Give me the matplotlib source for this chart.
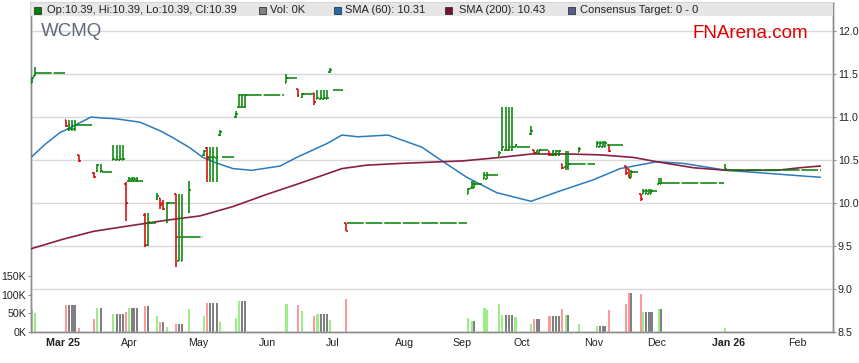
import matplotlib
matplotlib.use("Agg")
import matplotlib.pyplot as plt
from matplotlib.patches import Rectangle

plt.rcParams['font.family'] = ['Liberation Sans', 'DejaVu Sans']
plt.rcParams['lines.scale_dashes'] = False

# daily bars: x = session position, OHLC prices, volume (thousands), volume colour
pos = [0.3, 1.1, 10.7, 11.4, 12.3, 13.2, 14.5, 19.1, 20.1, 21.3,
       24.9, 26.0, 27.0, 28.0, 28.8, 29.7, 30.5, 31.3, 32.0, 34.5,
       35.5, 38.3, 39.2, 40.0, 41.3, 43.9, 44.8, 45.8, 48.0, 52.4,
       53.3, 54.2, 55.2, 56.3, 57.3, 62.1, 63.0, 63.9, 64.8, 77.4,
       80.8, 82.2, 85.8, 86.8, 87.8, 88.8, 89.8, 90.6, 95.4, 132.5,
       133.5, 134.2, 137.4, 138.1, 141.9, 142.8, 143.8, 144.8, 145.8, 146.8,
       151.5, 152.4, 153.2, 154.0, 157.1, 158.1, 159.1, 160.1, 161.0, 162.0,
       162.8, 166.1, 171.6, 172.4, 173.2, 174.0, 175.2, 180.3, 181.1, 181.8,
       184.8, 185.5, 186.4, 187.2, 188.0, 190.2, 191.0, 210.4]
opens = [11.39, 11.48, 10.96, 10.86, 10.86, 10.86, 10.56, 10.35, 10.37, 10.36,
         10.50, 10.50, 10.50, 10.50, 10.22, 10.25, 10.25, 10.25, 10.25, 9.86,
         9.51, 10.05, 10.06, 10.00, 9.78, 10.11, 9.33, 9.33, 9.90, 10.56,
         10.64, 10.52, 10.52, 10.52, 10.79, 11.00, 11.12, 11.12, 11.12, 11.39,
         11.33, 11.23, 11.28, 11.21, 11.21, 11.21, 11.21, 11.52, 9.77, 10.10,
         10.17, 10.17, 10.28, 10.28, 10.55, 10.62, 10.62, 10.62, 10.62, 10.65,
         10.80, 10.62, 10.58, 10.58, 10.61, 10.56, 10.56, 10.56, 10.45, 10.42,
         10.42, 10.59, 10.65, 10.65, 10.65, 10.65, 10.67, 10.43, 10.40, 10.29,
         10.10, 10.10, 10.10, 10.10, 10.10, 10.22, 10.22, 10.38]
highs = [11.46, 11.58, 10.96, 10.96, 10.96, 10.96, 10.56, 10.36, 10.45, 10.45,
         10.68, 10.68, 10.68, 10.68, 10.24, 10.30, 10.30, 10.30, 10.30, 9.88,
         9.88, 10.12, 10.06, 10.03, 10.01, 10.11, 10.11, 10.11, 10.26, 10.62,
         10.65, 10.65, 10.65, 10.65, 10.85, 11.07, 11.27, 11.27, 11.27, 11.50,
         11.33, 11.28, 11.28, 11.31, 11.31, 11.31, 11.31, 11.57, 9.77, 10.18,
         10.26, 10.26, 10.36, 10.36, 10.60, 11.12, 11.12, 11.12, 11.12, 10.69,
         10.89, 10.62, 10.62, 10.62, 10.61, 10.62, 10.62, 10.62, 10.45, 10.61,
         10.61, 10.65, 10.72, 10.72, 10.72, 10.72, 10.67, 10.43, 10.40, 10.38,
         10.11, 10.16, 10.16, 10.16, 10.16, 10.29, 10.29, 10.45]
lows = [11.39, 11.48, 10.88, 10.84, 10.84, 10.84, 10.48, 10.29, 10.36, 10.36,
        10.50, 10.50, 10.50, 10.50, 9.79, 10.24, 10.24, 10.24, 10.24, 9.49,
        9.50, 10.03, 9.93, 9.92, 9.77, 9.25, 9.33, 9.33, 9.88, 10.55,
        10.24, 10.24, 10.24, 10.24, 10.78, 10.99, 11.11, 11.11, 11.11, 11.39,
        11.23, 11.22, 11.14, 11.21, 11.21, 11.21, 11.21, 11.51, 9.67, 10.10,
        10.17, 10.17, 10.28, 10.28, 10.55, 10.60, 10.60, 10.60, 10.60, 10.65,
        10.79, 10.57, 10.57, 10.57, 10.55, 10.55, 10.55, 10.55, 10.40, 10.38,
        10.38, 10.59, 10.65, 10.65, 10.65, 10.65, 10.59, 10.32, 10.29, 10.29,
        10.02, 10.10, 10.10, 10.10, 10.10, 10.22, 10.22, 10.38]
closes = [11.45, 11.51, 10.89, 10.91, 10.91, 10.91, 10.49, 10.30, 10.44, 10.37,
          10.51, 10.51, 10.51, 10.51, 10.00, 10.28, 10.28, 10.28, 10.28, 9.51,
          9.78, 10.08, 9.98, 9.93, 10.00, 9.60, 9.60, 9.60, 10.15, 10.60,
          10.53, 10.53, 10.53, 10.53, 10.83, 11.03, 11.26, 11.26, 11.26, 11.45,
          11.25, 11.27, 11.18, 11.22, 11.22, 11.22, 11.22, 11.55, 9.68, 10.16,
          10.22, 10.22, 10.33, 10.33, 10.58, 10.65, 10.65, 10.65, 10.65, 10.67,
          10.84, 10.58, 10.62, 10.62, 10.56, 10.60, 10.60, 10.60, 10.41, 10.45,
          10.45, 10.63, 10.70, 10.70, 10.70, 10.70, 10.60, 10.35, 10.31, 10.36,
          10.05, 10.14, 10.14, 10.14, 10.14, 10.23, 10.23, 10.39]
volume_k = [61, 50, 73, 73, 73, 73, 11, 35, 64, 64,
            48, 48, 48, 48, 54, 64, 64, 64, 64, 70,
            70, 43, 27, 27, 13, 21.5, 21.5, 21.5, 62, 43,
            78, 78, 78, 78, 27, 37.6, 83, 83, 83, 75,
            72.6, 56.5, 43, 48, 48, 48, 48, 32, 88.7, 37.6,
            29.6, 29.6, 64.5, 59, 75, 45.7, 45.7, 45.7, 45.7, 40,
            21.5, 35, 35, 35, 43, 43, 43, 43, 62, 45.7,
            45.7, 21.5, 16, 16, 16, 16, 59, 75, 105, 105,
            102, 54, 54, 54, 54, 62, 62, 10.8]
# u = up (green), d = down (red), n = unchanged (grey)
vol_dir = ['u', 'u', 'd', 'n', 'n', 'n', 'd', 'd', 'u', 'n',
           'u', 'n', 'n', 'n', 'd', 'u', 'n', 'n', 'n', 'd',
           'n', 'u', 'd', 'n', 'u', 'd', 'n', 'n', 'u', 'u',
           'd', 'n', 'n', 'n', 'u', 'u', 'u', 'n', 'n', 'u',
           'd', 'u', 'd', 'u', 'n', 'n', 'n', 'u', 'd', 'u',
           'u', 'n', 'u', 'u', 'u', 'u', 'n', 'n', 'n', 'u',
           'u', 'd', 'n', 'n', 'd', 'n', 'n', 'n', 'd', 'u',
           'n', 'u', 'u', 'n', 'n', 'n', 'd', 'd', 'd', 'n',
           'd', 'u', 'n', 'n', 'n', 'u', 'n', 'u']

# days with no trade: price carried forward
flat_start = [1.3, 13.5, 21.4, 32.1, 35.8, 41.6, 46.4, 57.9, 64.8, 77.5, 82.1, 91.6,
              95.7, 134.2, 138.2, 147.2, 154.0, 163.0, 174.5, 182.0, 188.0, 191.6, 210.8]
flat_end = [10.2, 18.5, 24.5, 33.8, 37.9, 43.6, 52.1, 61.5, 76.8, 80.5, 85.5, 94.6,
            132.0, 136.6, 141.4, 151.2, 156.6, 170.9, 179.5, 184.0, 189.8, 210.0, 239.3]
flat_price = [11.51, 10.91, 10.36, 10.26, 9.77, 10.00, 9.60, 10.53, 11.26, 11.45, 11.27, 11.31,
              9.77, 10.22, 10.33, 10.65, 10.62, 10.45, 10.67, 10.36, 10.14, 10.23, 10.38]

sma60_pos = [0.3, 4.2, 8.8, 10.6, 18.2, 20.9, 25.5, 33.0, 39.1, 43.0, 48.2, 52.1,
             55.8, 61.2, 66.9, 75.5, 80.5, 89.6, 94.2, 99.1, 108.2, 111.8, 118.4,
             124.9, 132.0, 141.1, 151.5, 160.3, 170.4, 178.5, 189.6, 197.7, 210.8,
             224.9, 235.1, 239.1]
sma60_val = [10.54, 10.68, 10.82, 10.85, 11.00, 10.99, 10.98, 10.94, 10.84, 10.76, 10.64, 10.53,
             10.47, 10.40, 10.38, 10.43, 10.53, 10.69, 10.79, 10.77, 10.79, 10.74, 10.65,
             10.48, 10.30, 10.12, 10.02, 10.14, 10.27, 10.40, 10.48, 10.46, 10.38,
             10.34, 10.31, 10.30]
sma200_pos = [0.2, 9.8, 18.9, 29.0, 41.1, 51.2, 61.3, 71.4, 81.5, 94.2, 101.7, 111.8,
              131.0, 142.1, 151.7, 162.3, 172.4, 182.5, 189.6, 200.7, 210.8, 226.0, 233.0, 239.1]
sma200_val = [9.47, 9.58, 9.67, 9.73, 9.80, 9.85, 9.96, 10.10, 10.23, 10.40, 10.44, 10.46,
              10.49, 10.53, 10.57, 10.57, 10.56, 10.53, 10.48, 10.41, 10.38, 10.38, 10.41, 10.43]

month_pos = [9.8, 29.8, 50.7, 71.6, 91.4, 113.3, 130.7, 148.7, 170.4, 189.6, 211.3, 232.2]
month_lbl = ["Mar 25", "Apr", "May", "Jun", "Jul", "Aug", "Sep", "Oct", "Nov", "Dec", "Jan 26", "Feb"]
price_ticks = [8.5, 9.0, 9.5, 10.0, 10.5, 11.0, 11.5, 12.0]
vol_ticks = [0, 50000, 100000, 150000]

GREEN = '#008000'
RED = '#d40000'
vol_colors = {'u': '#99ee88', 'd': '#ff9999', 'n': '#808080'}

W, H = 859, 363
fig = plt.figure(figsize=(W / 100, H / 100), dpi=100)
axv = fig.add_axes([31 / W, 31 / H, 802 / W, 329.5 / H])
ax = axv.twinx()
ax.set_zorder(axv.get_zorder() + 1)
ax.patch.set_visible(False)

# volume
axv.bar(pos, [v * 1000 for v in volume_k], width=0.65,
        color=[vol_colors[d] for d in vol_dir], zorder=2)
axv.set_ylim(0, 150000 * 329.5 / 55.7)
axv.set_yticks(vol_ticks)
axv.set_yticklabels(["0K", "50K", "100K", "150K"])

# ohlc bars
cols = [GREEN if c >= o else RED for o, c in zip(opens, closes)]
tk = 0.5
ax.vlines(pos, lows, highs, colors=cols, lw=1.1, zorder=4)
ax.hlines(opens, [p - tk for p in pos], pos, colors=cols, lw=1.1, zorder=4)
ax.hlines(closes, pos, [p + tk for p in pos], colors=cols, lw=1.1, zorder=4)
ax.hlines(flat_price, flat_start, flat_end, colors=GREEN, lw=1.1,
          linestyles=[(0, (12, 1.4))], zorder=4)

ax.plot(sma60_pos, sma60_val, color='#2b7bbd', lw=1.1, zorder=3)
ax.plot(sma200_pos, sma200_val, color='#8a1f45', lw=1.2, zorder=3)

ax.set_xlim(0, 243)
ax.set_ylim(8.5, 8.5 + 329.5 / 86)
ax.set_yticks(price_ticks)
ax.set_yticklabels([f"{t:.1f}" for t in price_ticks])
ax.set_xticks(month_pos)
axv.set_xticks(month_pos)
axv.set_xticklabels(month_lbl)
for lbl in axv.get_xticklabels():
    if lbl.get_text() in ("Mar 25", "Jan 26"):
        lbl.set_fontweight('bold')

ax.set_axisbelow(True)
ax.grid(True, color='#d8d8d8', lw=1.0)

for a in (ax, axv):
    for s in a.spines.values():
        s.set_color('#8c8c8c')
        s.set_linewidth(1.0)
ax.tick_params(axis='y', length=2.5, pad=1, labelsize=7.7, colors='#8c8c8c', labelcolor='#222222')
axv.tick_params(axis='y', length=2.5, pad=1, labelsize=7.7, colors='#8c8c8c', labelcolor='#222222')
axv.tick_params(axis='x', length=0, pad=4, labelsize=7.7, labelcolor='#222222')
ax.tick_params(axis='x', length=0, labelbottom=False)

# legend band
ax.add_patch(Rectangle((0, 1 - 13.5 / 329.5), 1, 13.5 / 329.5, transform=ax.transAxes,
                       facecolor='#e6e6e6', edgecolor='none', zorder=6))
legend_items = [
    (37.5, 47, GREEN, "Op:10.39, Hi:10.39, Lo:10.39, Cl:10.39"),
    (262, 270, '#808080', "Vol: 0K"),
    (337, 345, '#1f6fb0', "SMA (60): 10.31"),
    (449, 459, '#7a1030', "SMA (200): 10.43"),
    (571, 580, '#5b5b8f', "Consensus Target: 0 - 0"),
]
ly = 1 - 10 / H
for sx, tx, c, txt in legend_items:
    fig.patches.append(Rectangle(((sx - 3.5) / W, ly - 3.5 / H), 7 / W, 7 / H,
                                 transform=fig.transFigure, facecolor=c,
                                 edgecolor='#333333', lw=0.6, zorder=10))
    fig.text(tx / W, ly, txt, fontsize=8, color='#222222', va='center', ha='left', zorder=10)

fig.text(41 / W, 1 - 32 / H, "WCMQ", fontsize=13.5, color='#5f6a78', va='center', ha='left')
fig.text(692 / W, 1 - 33 / H, "FNArena.com", fontsize=13.5, color='#dd0000', va='center', ha='left')

fig.savefig("out.png", dpi=100)
